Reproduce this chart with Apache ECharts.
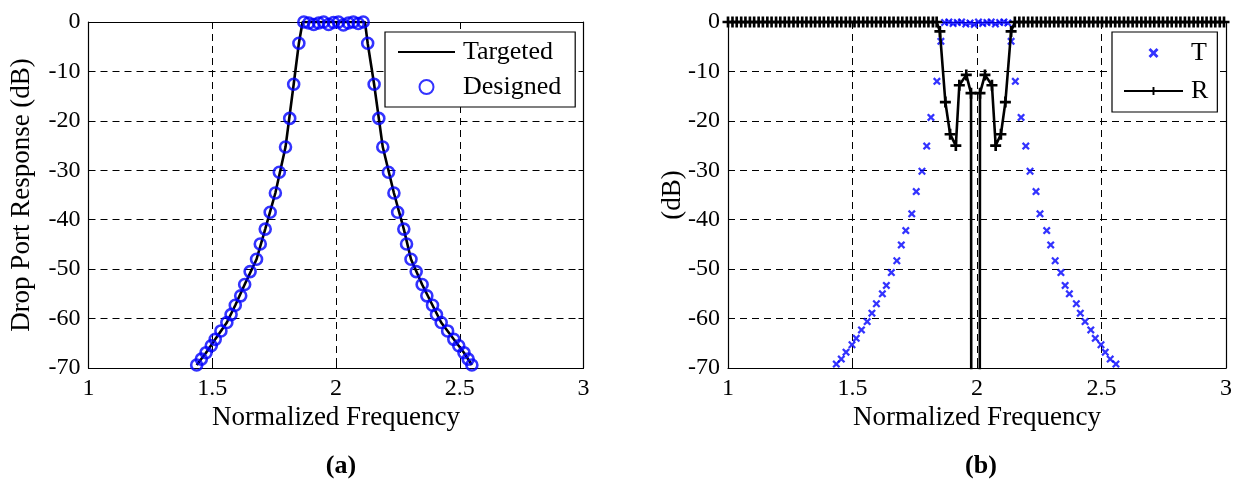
<!DOCTYPE html>
<html>
<head>
<meta charset="utf-8">
<script src="https://cdn.jsdelivr.net/npm/echarts@6/dist/echarts.min.js"></script>
<style>html,body{margin:0;padding:0;background:#fff}#c{width:1237px;height:480px}</style>
</head>
<body>
<div id="c"></div>
<script>
// ---------- data: panel (a) ----------
const designedFreq = [1.437,1.456,1.475,1.496,1.512,1.535,1.559,1.576,1.593,1.615,1.631,1.653,1.679,1.694,1.714,1.734,1.755,1.771,1.796,1.813,1.829,1.850,
  1.870,1.890,1.910,1.930,1.950,1.970,1.990,2.010,2.030,2.050,2.070,2.090,2.110,
  2.128,2.154,2.173,2.189,2.212,2.234,2.249,2.274,2.285,2.303,2.324,2.348,2.367,2.390,2.406,2.425,2.451,2.476,2.496,2.517,2.534,2.549];
const designedDb = [-69.4,-68.2,-66.9,-65.5,-64.2,-62.5,-60.8,-59.2,-57.3,-55.4,-53.1,-50.5,-48.0,-44.9,-41.9,-38.5,-34.6,-30.4,-25.3,-19.5,-12.6,-4.3,
  0,-0.2,-0.5,-0.2,0,-0.5,-0.1,0,-0.6,-0.2,0,-0.3,0,
  -4.3,-12.6,-19.5,-25.3,-30.4,-34.6,-38.5,-41.9,-44.9,-48.0,-50.5,-53.1,-55.4,-57.3,-59.2,-60.8,-62.5,-64.2,-65.5,-66.9,-68.2,-69.4];
const targetFreq = [1.437,1.475,1.512,1.559,1.593,1.631,1.679,1.714,1.755,1.796,1.829,1.850,1.865,2.117,2.128,2.154,2.189,2.234,2.274,2.303,2.348,2.390,2.425,2.476,2.517,2.549];
const targetDb   = [-69.4,-66.9,-64.2,-60.8,-57.3,-53.1,-48.0,-41.9,-34.6,-25.3,-12.6,-4.3,0,0,-4.3,-12.6,-25.3,-34.6,-41.9,-48.0,-53.1,-57.3,-60.8,-64.2,-66.9,-69.4];

// ---------- data: panel (b) ----------
const tFreq = [1.435,1.455,1.474,1.498,1.515,1.536,1.559,1.578,1.596,1.620,1.636,1.656,1.678,1.696,1.714,1.738,1.756,1.779,1.798,1.815,1.839,1.855,
  1.870,1.887,1.904,1.921,1.938,1.955,1.972,1.989,2.006,2.023,2.040,2.057,2.074,2.091,2.108,2.124,
  2.137,2.154,2.177,2.196,2.213,2.237,2.253,2.280,2.296,2.314,2.337,2.354,2.371,2.399,2.415,2.434,2.457,2.475,2.498,2.515,2.535,2.558];
const tDb = [-69.2,-68.2,-66.8,-65.3,-64.0,-62.3,-60.6,-58.9,-57.0,-55.0,-53.3,-50.7,-48.3,-45.1,-42.2,-38.8,-34.3,-30.2,-25.1,-19.3,-12.0,-3.9,
  -0.1,0,-0.3,-0.1,0,-0.4,-0.2,-0.5,0,-0.3,-0.1,0,-0.4,-0.1,0,-0.2,
  -3.9,-12.0,-19.3,-25.1,-30.2,-34.3,-38.8,-42.2,-45.1,-48.3,-50.7,-53.3,-55.0,-57.0,-58.9,-60.6,-62.3,-64.0,-65.3,-66.8,-68.2,-69.2];
const rFreq = [1.000,1.018,1.035,1.053,1.070,1.088,1.105,1.123,1.140,1.158,1.175,1.193,1.210,1.228,1.245,1.263,1.280,1.298,1.315,1.333,1.350,1.368,1.385,1.403,1.420,1.438,1.455,1.473,1.490,1.508,1.525,1.543,1.560,1.578,1.595,1.613,1.630,1.648,1.665,1.683,1.700,1.718,1.735,1.753,1.770,1.788,1.805,1.823,1.838,
  1.851,1.873,1.892,1.915,1.929,1.957,1.976,1.978,2.010,2.012,2.032,2.060,2.075,2.096,2.114,2.137,
  2.152,2.170,2.187,2.205,2.222,2.240,2.257,2.275,2.292,2.310,2.327,2.345,2.362,2.380,2.397,2.415,2.432,2.450,2.467,2.485,2.502,2.520,2.537,2.555,2.572,2.590,2.607,2.625,2.642,2.660,2.677,2.695,2.712,2.730,2.747,2.765,2.782,2.800,2.817,2.835,2.852,2.870,2.887,2.905,2.922,2.940,2.957,2.975,2.992];
const rDb = [0,0,0,0,0,0,0,0,0,0,0,0,0,0,0,0,0,0,0,0,0,0,0,0,0,0,0,0,0,0,0,0,0,0,0,0,0,0,0,0,0,0,0,0,0,0,0,0,0,
  -1.9,-16.2,-22.7,-25.0,-12.8,-10.7,-14.4,-150,-150,-14.4,-10.7,-12.8,-25.0,-22.7,-16.2,-1.9,
  0,0,0,0,0,0,0,0,0,0,0,0,0,0,0,0,0,0,0,0,0,0,0,0,0,0,0,0,0,0,0,0,0,0,0,0,0,0,0,0,0,0,0,0,0,0,0,0,0];

const xMin = 1, xMax = 3, xStep = 0.5;
const yMin = -70, yMax = 0, yStep = 10;

// ---------- chart ----------
const FONT = 'Liberation Serif';
const pairs = (f, d) => f.map((v, i) => [v, d[i]]);
const plusPath = 'path://M3.8,0H6.2V3.8H10V6.2H6.2V10H3.8V6.2H0V3.8H3.8Z';
const crossPath = 'path://M0,2L2,0L5,3L8,0L10,2L7,5L10,8L8,10L5,7L2,10L0,8L3,5Z';

function xAxes(gi) {
  const base = {type:'value', min:xMin, max:xMax, interval:xStep, gridIndex:gi,
    axisLine:{show:true, onZero:false, lineStyle:{color:'#000', width:1.2}},
    axisTick:{show:true, inside:true, length:5, lineStyle:{color:'#000'}}};
  return [
    Object.assign({}, base, {position:'bottom', name:'Normalized Frequency', nameLocation:'middle', nameGap:36,
      nameMoveOverlap:false,
      nameTextStyle:{fontFamily:FONT, fontSize:27, color:'#000'},
      axisLabel:{fontFamily:FONT, fontSize:24, color:'#000', margin:9},
      splitLine:{show:true, lineStyle:{color:'#000', width:1, type:[7,5]}}}),
    Object.assign({}, base, {position:'top', axisLabel:{show:false}, splitLine:{show:false}})
  ];
}
function yAxes(gi, name, gap) {
  const base = {type:'value', min:yMin, max:yMax, interval:yStep, gridIndex:gi,
    axisLine:{show:true, onZero:false, lineStyle:{color:'#000', width:1.2}},
    axisTick:{show:true, inside:true, length:5, lineStyle:{color:'#000'}}};
  return [
    Object.assign({}, base, {position:'left', name:name, nameLocation:'middle', nameGap:gap,
      nameMoveOverlap:false,
      nameTextStyle:{fontFamily:FONT, fontSize:27, color:'#000'},
      axisLabel:{fontFamily:FONT, fontSize:24, color:'#000', margin:8},
      splitLine:{show:true, lineStyle:{color:'#000', width:1, type:[7,5]}}}),
    Object.assign({}, base, {position:'right', axisLabel:{show:false}, splitLine:{show:false}})
  ];
}

const legendText = {fontFamily:FONT, fontSize:26, color:'#000', lineHeight:24, padding:[0,0,0,3]};
const captionRich = {rich:{b:{fontFamily:FONT, fontSize:26, fontWeight:'bold', color:'#000'}}};
const option = {
  animation:false,
  backgroundColor:'#fff',
  grid:[
    {left:88.5, top:22, width:495, height:346, containLabel:false},
    {left:728, top:22, width:498, height:346, containLabel:false}
  ],
  xAxis:[...xAxes(0), ...xAxes(1)],
  yAxis:[...yAxes(0, 'Drop Port Response (dB)', 53), ...yAxes(1, '(dB)', 42)],
  legend:[
    {data:[{name:'Targeted', itemStyle:{opacity:0}}, 'Designed'], orient:'vertical', left:385, top:32, backgroundColor:'#fff',
     borderColor:'#000', borderWidth:1.2, borderRadius:0, padding:[7,14,7,12], itemWidth:57, itemHeight:14, itemGap:9,
     textStyle:legendText},
    {data:['T','R'], orient:'vertical', left:1112, top:32, backgroundColor:'#fff',
     borderColor:'#000', borderWidth:1.2, borderRadius:0, padding:[8,9,8,11], itemWidth:59, itemHeight:10, itemGap:12,
     textStyle:legendText}
  ],
  title:[
    {text:'{b|(a)}', left:336, top:448, textAlign:'center', textStyle:captionRich},
    {text:'{b|(b)}', left:976, top:448, textAlign:'center', textStyle:captionRich}
  ],
  series:[
    {name:'Targeted', type:'line', xAxisIndex:0, yAxisIndex:0, data:pairs(targetFreq, targetDb),
     symbol:'none', lineStyle:{color:'#000', width:2.6}, itemStyle:{color:'#000'}, clip:true, z:2},
    {name:'Designed', type:'scatter', xAxisIndex:0, yAxisIndex:0, data:pairs(designedFreq, designedDb),
     symbol:'circle', symbolSize:11, itemStyle:{color:'rgba(255,255,255,0)', borderColor:'#0000ff', borderWidth:2.6}, clip:false, z:3},
    {name:'T', type:'scatter', xAxisIndex:2, yAxisIndex:2, data:pairs(tFreq, tDb),
     symbol:crossPath, symbolSize:8, itemStyle:{color:'#0000ff'}, clip:true, z:3},
    {name:'R', type:'line', xAxisIndex:2, yAxisIndex:2, data:pairs(rFreq, rDb),
     symbol:plusPath, symbolSize:11, showSymbol:true, showAllSymbol:true,
     lineStyle:{color:'#000', width:2.6}, itemStyle:{color:'#000'}, clip:true, z:4}
  ]
};
const chart = echarts.init(document.getElementById('c'), null, {renderer:'canvas'});
chart.setOption(option);
</script>
</body>
</html>
